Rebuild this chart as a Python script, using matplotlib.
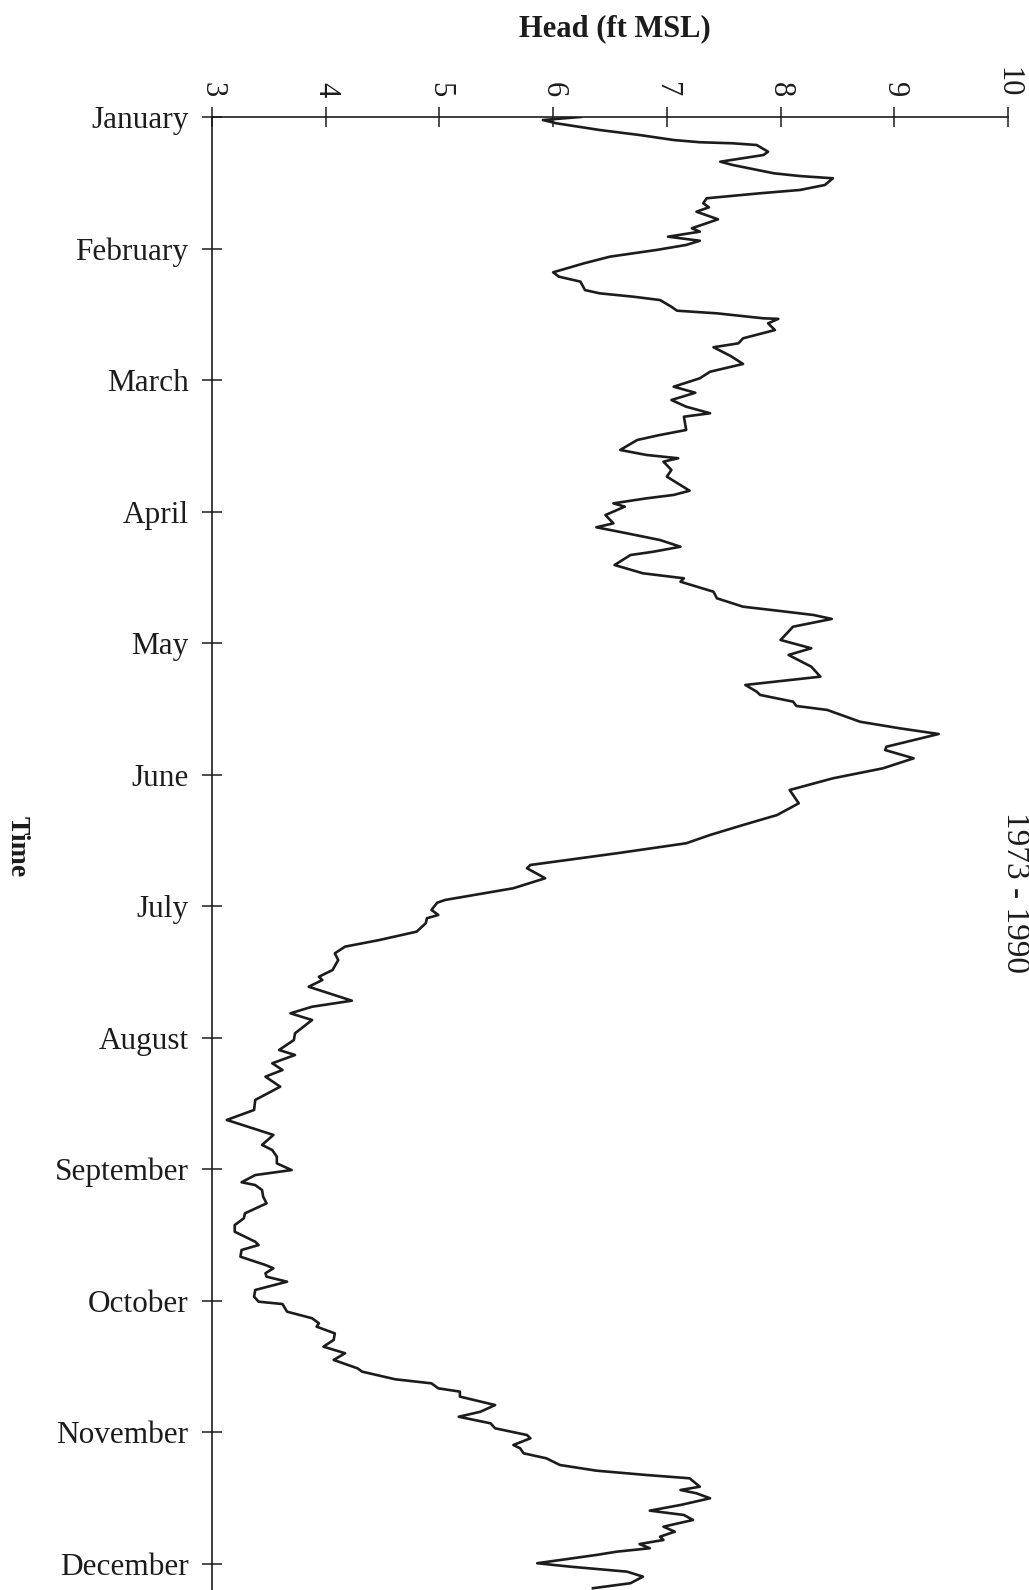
import matplotlib
matplotlib.use("Agg")
import matplotlib.pyplot as plt
import numpy as np

# Time in months after 1 January (0 = January, 1 = February, ...)
time_months = [
    0.000, 0.023, 0.048, 0.099, 0.137, 0.175, 0.192, 0.200, 0.213, 0.264,
    0.289, 0.340, 0.365, 0.428, 0.449, 0.466, 0.517, 0.555, 0.580, 0.618,
    0.656, 0.687, 0.720, 0.778, 0.846, 0.872, 0.910, 0.941, 0.973, 1.011,
    1.062, 1.113, 1.181, 1.214, 1.252, 1.316, 1.341, 1.367, 1.392, 1.443,
    1.473, 1.493, 1.531, 1.535, 1.569, 1.620, 1.683, 1.721, 1.751, 1.817,
    1.878, 1.937, 1.987,
    2.051, 2.097, 2.152, 2.203, 2.253, 2.279, 2.380, 2.418, 2.456, 2.532,
    2.570, 2.595, 2.621, 2.684, 2.735, 2.842, 2.874, 2.900, 2.938, 2.963,
    3.027, 3.090, 3.120, 3.166, 3.217, 3.268, 3.306, 3.331, 3.407, 3.470,
    3.508, 3.534, 3.610, 3.660, 3.724, 3.754, 3.787, 3.817, 3.876,
    3.977, 4.040, 4.091, 4.180, 4.256, 4.319, 4.370, 4.395, 4.446, 4.479,
    4.509, 4.599, 4.649, 4.692, 4.789, 4.814, 4.877, 4.953, 5.029, 5.118,
    5.219, 5.308, 5.384, 5.460, 5.523, 5.599, 5.688, 5.713, 5.789, 5.865,
    5.954, 5.975, 6.030, 6.068, 6.093, 6.131, 6.195, 6.259, 6.309, 6.360,
    6.411, 6.487, 6.538, 6.563, 6.614, 6.720, 6.766, 6.816, 6.867, 6.968,
    7.019, 7.095, 7.133, 7.196, 7.247, 7.298, 7.374, 7.475, 7.551, 7.627,
    7.741, 7.817, 7.856, 7.906,
    7.957, 8.008, 8.046, 8.101, 8.122, 8.160, 8.211, 8.261, 8.337, 8.375,
    8.426, 8.477, 8.553, 8.578, 8.616, 8.667, 8.730, 8.755, 8.793, 8.819,
    8.857, 8.920, 8.971, 9.009, 9.027, 9.085, 9.135, 9.173, 9.199, 9.250,
    9.300, 9.351, 9.401, 9.452, 9.516, 9.541, 9.599, 9.630, 9.668, 9.693,
    9.731,
    9.795, 9.846, 9.884, 9.934, 9.972, 10.023, 10.048, 10.099, 10.124, 10.162,
    10.200, 10.251, 10.294, 10.327, 10.352, 10.416, 10.441, 10.466, 10.504, 10.555,
    10.598, 10.631, 10.669, 10.720, 10.758, 10.796, 10.821, 10.852, 10.884, 10.910,
    10.935, 10.998, 11.024, 11.062, 11.100, 11.150, 11.188,
]

# Head (ft MSL), 1973 - 1990
head_ft = [
    6.24, 5.91, 6.03, 6.41, 6.76, 7.06, 7.29, 7.58, 7.79, 7.89,
    7.85, 7.47, 7.58, 7.94, 8.17, 8.46, 8.39, 8.17, 7.82, 7.35,
    7.32, 7.37, 7.26, 7.45, 7.22, 7.29, 7.01, 7.29, 7.17, 6.91,
    6.50, 6.27, 6.00, 6.05, 6.24, 6.28, 6.41, 6.71, 6.94, 7.04,
    7.09, 7.44, 7.85, 7.98, 7.89, 7.95, 7.67, 7.63, 7.41, 7.56,
    7.67, 7.38, 7.29,
    7.06, 7.25, 7.04, 7.17, 7.38, 7.15, 7.17, 6.94, 6.74, 6.59,
    6.82, 7.10, 6.97, 7.04, 7.00, 7.20, 7.06, 6.82, 6.53, 6.63,
    6.46, 6.53, 6.38, 6.65, 6.94, 7.12, 6.88, 6.68, 6.54, 6.79,
    7.15, 7.12, 7.41, 7.44, 7.67, 7.97, 8.29, 8.45, 8.11,
    8.00, 8.27, 8.07, 8.27, 8.35, 7.69, 7.79, 7.82, 8.11, 8.14,
    8.41, 8.70, 9.05, 9.39, 8.93, 8.92, 9.17, 8.90, 8.46, 8.08,
    8.16, 7.97, 7.67, 7.38, 7.17, 6.56, 5.80, 5.77, 5.93, 5.65,
    5.05, 4.98, 4.93, 4.99, 4.89, 4.88, 4.80, 4.47, 4.17, 4.08,
    4.11, 4.06, 3.94, 3.97, 3.85, 4.23, 3.88, 3.69, 3.88, 3.73,
    3.72, 3.59, 3.73, 3.53, 3.62, 3.47, 3.60, 3.38, 3.37, 3.13,
    3.54, 3.44, 3.53, 3.57,
    3.57, 3.70, 3.38, 3.26, 3.38, 3.44, 3.45, 3.48, 3.29, 3.28,
    3.20, 3.20, 3.38, 3.41, 3.26, 3.25, 3.47, 3.54, 3.47, 3.48,
    3.66, 3.38, 3.37, 3.41, 3.62, 3.66, 3.88, 3.94, 3.92, 4.08,
    4.07, 3.98, 4.17, 4.07, 4.28, 4.32, 4.61, 4.93, 4.99, 5.18,
    5.18,
    5.49, 5.36, 5.17, 5.45, 5.49, 5.77, 5.80, 5.65, 5.71, 5.74,
    5.94, 6.06, 6.38, 6.82, 7.20, 7.29, 7.12, 7.26, 7.38, 7.12,
    6.85, 7.15, 7.23, 6.97, 7.07, 6.94, 6.97, 6.76, 6.85, 6.56,
    6.38, 5.86, 6.15, 6.65, 6.79, 6.68, 6.35,
]

month_labels = ["January", "February", "March", "April", "May", "June",
                "July", "August", "September", "October", "November", "December"]
head_ticks = [3, 4, 5, 6, 7, 8, 9, 10]

serif = ["Liberation Serif", "DejaVu Serif"]
ink = "#1c1c1c"

W, H = 1029, 1590
fig = plt.figure(figsize=(W / 100, H / 100), dpi=100)
fig.patch.set_facecolor("white")

left_px, right_px, top_px = 212, 1008, 117
ax = fig.add_axes([left_px / W, 0.0, (right_px - left_px) / W, (H - top_px) / H])

ax.plot(head_ft, time_months, color=ink, lw=1.9, solid_joinstyle="round")

ax.set_xlim(3, 10)
ax.set_ylim((H - top_px) / 131.5, 0)

for s in ["right", "bottom"]:
    ax.spines[s].set_visible(False)
for s in ["left", "top"]:
    ax.spines[s].set_linewidth(1.2)
    ax.spines[s].set_color(ink)

ax.xaxis.tick_top()
ax.set_xticks(head_ticks)
ax.set_xticklabels([str(v) for v in head_ticks], rotation=270,
                   fontsize=22, family=serif, color=ink)
ax.tick_params(axis="x", direction="inout", length=14, width=1.1, pad=7, colors=ink)

ax.set_yticks(range(len(month_labels)))
ax.set_yticklabels(month_labels, fontsize=22.5, family=serif, color=ink)
ax.tick_params(axis="y", direction="inout", length=14, width=1.1, pad=10, colors=ink)

fig.text(615 / W, 1 - 29 / H, "Head (ft MSL)", ha="center", va="center",
         fontsize=22, fontweight="bold", family=serif, color=ink)
fig.text(17 / W, 1 - 847 / H, "Time", ha="center", va="center", rotation=270,
         fontsize=20, fontweight="bold", family=serif, color=ink)
fig.text(1015 / W, 1 - 892 / H, "1973 - 1990", ha="center", va="center", rotation=270,
         fontsize=24, family=serif, color=ink)

fig.savefig("out.png", dpi=100)
